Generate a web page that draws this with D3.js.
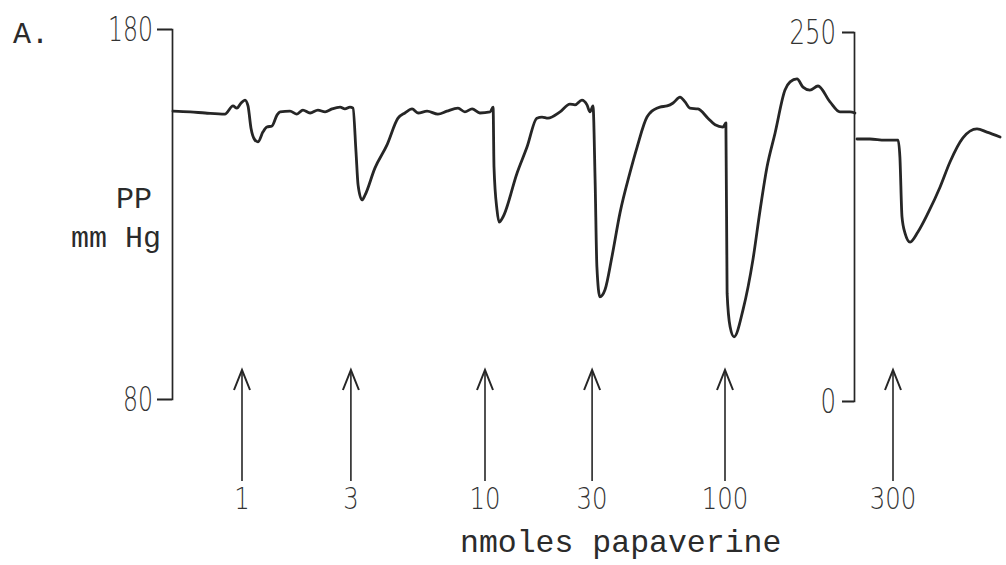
<!DOCTYPE html>
<html>
<head>
<meta charset="utf-8">
<script src="https://cdn.jsdelivr.net/npm/d3@7"></script>
<style>
  html, body { margin: 0; padding: 0; background: #fff; }
  svg { display: block; }
  .mono { font-family: "Liberation Mono", "DejaVu Sans Mono", monospace; fill: #2b2b2b; }
  .num { font-family: "DejaVu Sans", sans-serif; font-weight: 200; fill: #333; }
</style>
</head>
<body>
<svg id="chart" width="1006" height="565"></svg>
<script>
// Perfusion pressure record (time in min, pressure in mm Hg), first part on the 80–180 scale
const traceTime1 = [
  0, 0.57, 1.07, 1.73, 2.0, 2.13, 2.27, 2.4, 2.5, 2.6, 2.73, 2.83, 3.0, 3.13, 3.3, 3.47, 3.57, 3.9,
  4.13, 4.33, 4.57, 4.83, 5.07, 5.3, 5.57, 5.73, 5.9, 6.0,
  6.1, 6.17, 6.3, 6.4, 6.73, 7.13, 7.5, 7.73, 7.97,
  8.17, 8.47, 8.83, 9.13, 9.5, 9.73, 9.97, 10.23, 10.57, 10.67,
  10.7, 10.8, 10.87, 11.0, 11.47, 11.8, 12.13, 12.3, 12.5, 12.9, 13.23, 13.4, 13.63, 13.8, 13.9, 14.0,
  14.07, 14.13, 14.23, 14.4, 14.63, 14.9, 15.23, 15.47, 15.8, 15.9, 16.23, 16.47, 16.67, 16.9, 17.07,
  17.23, 17.5, 17.83, 18.07, 18.33, 18.43,
  18.47, 18.57, 18.7, 19.0, 19.33, 19.57, 19.8, 20.07, 20.4, 20.57, 20.8, 21.0, 21.23, 21.5, 21.9,
  22.23, 22.57, 22.73
];
const tracePressure1 = [
  157.8, 157.6, 157.3, 157.0, 159.2, 158.6, 160.0, 160.8, 159.2, 153.2, 150.0, 149.5, 152.2, 153.5, 153.8, 156.8, 157.6, 157.8,
  157.0, 158.1, 157.3, 158.1, 157.6, 158.4, 158.9, 158.4, 158.9, 158.6,
  146.8, 137.8, 133.8, 135.1, 142.4, 148.6, 155.9, 157.3, 158.4,
  157.3, 157.8, 157.0, 157.8, 158.6, 157.6, 158.4, 157.3, 157.6, 158.9,
  142.7, 131.1, 127.8, 129.2, 141.1, 148.1, 155.9, 156.2, 155.9, 157.6, 159.7, 159.5, 160.8, 159.5, 157.6, 159.2,
  139.2, 115.7, 107.6, 109.5, 118.4, 130.3, 141.1, 148.1, 156.2, 157.3, 158.9, 159.2, 160.0, 161.6, 160.3,
  158.6, 158.4, 155.9, 154.1, 153.5, 154.6,
  108.6, 99.5, 96.8, 104.1, 117.6, 131.1, 142.7, 151.9, 163.5, 165.7, 166.5, 164.3, 163.5, 164.6, 160.3,
  157.6, 157.6, 157.3
];

// Second part of the record, on the 0–250 scale
const traceTime2 = [
  22.8, 23.23, 23.73, 24.17, 24.23, 24.3, 24.4, 24.57, 24.83, 25.17, 25.57, 25.9, 26.33, 26.8, 27.13, 27.57
];
const tracePressure2 = [
  177.5, 177.5, 176.8, 176.8, 165.3, 124.7, 113.8, 107.7, 114.5, 127.4, 145.0, 161.9, 178.2, 184.3, 182.2, 178.9
];

// Papaverine injections
const doseTimes = [2.3, 5.93, 10.4, 13.97, 18.4, 24.0];
const doseLabels = ["1", "3", "10", "30", "100", "300"];

// Scale end labels
const leftTicks = [80, 180];
const rightTicks = [0, 250];

const svg = d3.select("#chart");
const ink = "#262626";

const x = d3.scaleLinear().domain([0, 28]).range([173, 1013]);
const yLeft = d3.scaleLinear().domain([80, 180]).range([399, 29]);
const yRight = d3.scaleLinear().domain([0, 250]).range([401, 32]);

function styleAxis(g, charW) {
  g.select(".domain").attr("stroke", ink).attr("stroke-width", 1.7);
  g.selectAll(".tick line").attr("stroke", ink).attr("stroke-width", 1.7);
  g.selectAll(".tick text")
    .attr("class", "num")
    .attr("font-size", 33)
    .attr("dy", "0.36em")
    .attr("textLength", function () { return this.textContent.length * charW; })
    .attr("lengthAdjust", "spacingAndGlyphs");
}

// Left pressure scale
svg.append("g")
  .attr("transform", "translate(172,0)")
  .call(d3.axisLeft(yLeft).tickValues(leftTicks).tickSize(15).tickSizeOuter(15).tickPadding(4).tickFormat(d3.format("d")))
  .call(g => styleAxis(g, 15));

// Right pressure scale
svg.append("g")
  .attr("transform", "translate(854,0)")
  .call(d3.axisLeft(yRight).tickValues(rightTicks).tickSize(12).tickSizeOuter(12).tickPadding(6).tickFormat(d3.format("d")))
  .call(g => styleAxis(g, 15.5));

// Pressure trace
const line1 = d3.line()
  .x((d, i) => x(traceTime1[i]))
  .y((d, i) => yLeft(tracePressure1[i]))
  .curve(d3.curveMonotoneX);
const line2 = d3.line()
  .x((d, i) => x(traceTime2[i]))
  .y((d, i) => yRight(tracePressure2[i]))
  .curve(d3.curveMonotoneX);

svg.append("path")
  .attr("d", line1(traceTime1))
  .attr("fill", "none").attr("stroke", ink).attr("stroke-width", 2.8)
  .attr("stroke-linejoin", "round").attr("stroke-linecap", "round");
svg.append("path")
  .attr("d", line2(traceTime2))
  .attr("fill", "none").attr("stroke", ink).attr("stroke-width", 2.8)
  .attr("stroke-linejoin", "round").attr("stroke-linecap", "round");

// Injection arrows
const arrowTop = 370, arrowBottom = 481, headW = 8, headH = 20;
const arrows = svg.append("g").selectAll("g")
  .data(doseTimes)
  .join("g")
  .attr("transform", d => `translate(${x(d)},0)`);
arrows.append("line")
  .attr("x1", 0).attr("x2", 0).attr("y1", arrowTop).attr("y2", arrowBottom)
  .attr("stroke", ink).attr("stroke-width", 1.6);
arrows.append("path")
  .attr("d", `M${-headW},${arrowTop + headH}L0,${arrowTop}L${headW},${arrowTop + headH}`)
  .attr("fill", "none").attr("stroke", ink).attr("stroke-width", 2);
arrows.append("text")
  .attr("class", "num")
  .attr("x", 0).attr("y", 509)
  .attr("text-anchor", "middle")
  .attr("font-size", 31)
  .attr("textLength", (d, i) => doseLabels[i].length * 15.5)
  .attr("lengthAdjust", "spacingAndGlyphs")
  .text((d, i) => doseLabels[i]);

// Titles
svg.append("text").attr("class", "mono").attr("x", 13).attr("y", 43).attr("font-size", 30).text("A.");
svg.append("text").attr("class", "mono").attr("x", 116).attr("y", 208).attr("font-size", 30).text("PP");
svg.append("text").attr("class", "mono").attr("x", 71).attr("y", 247).attr("font-size", 30).attr("xml:space", "preserve").text("mm Hg");
svg.append("text").attr("class", "mono").attr("x", 460).attr("y", 552).attr("font-size", 31.5).attr("xml:space", "preserve").text("nmoles papaverine");
</script>
</body>
</html>
